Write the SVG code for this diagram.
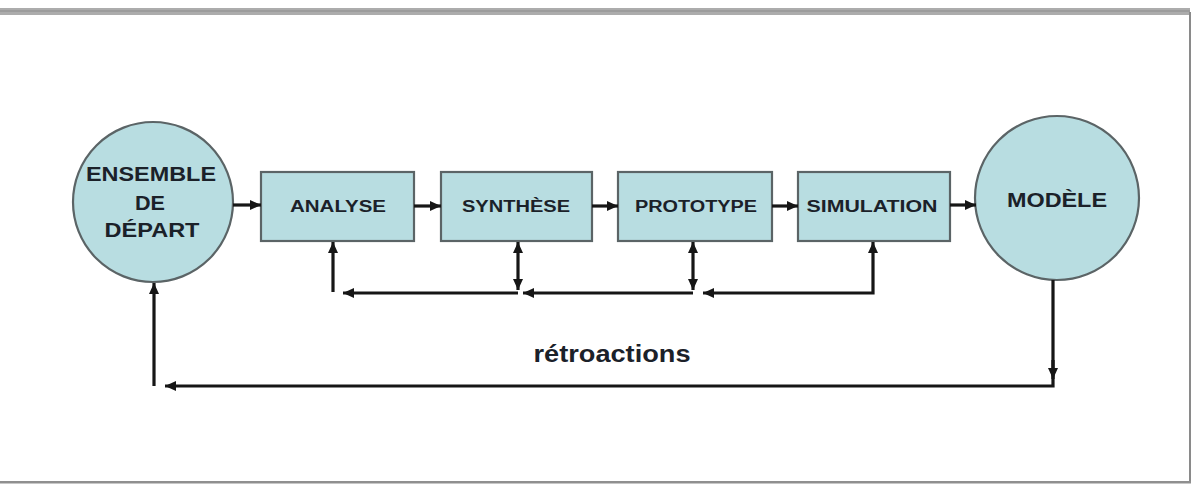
<svg xmlns="http://www.w3.org/2000/svg" width="1201" height="485" viewBox="0 0 1201 485">
<style>
.node{fill:#b8dde1;stroke:#5b6466;stroke-width:2.2}
.lbl{font-family:"Liberation Sans",Arial,sans-serif;font-weight:bold;fill:#1b2129;text-anchor:middle}
.con{fill:none;stroke:#161616;stroke-width:3.2}
</style>
<defs>
<marker id="ah" markerUnits="userSpaceOnUse" markerWidth="12" markerHeight="10" refX="11" refY="5" orient="auto-start-reverse">
<path d="M0,0 L11,5 L0,10 z" fill="#161616"/>
</marker>
</defs>
<rect x="0" y="0" width="1201" height="485" fill="#ffffff"/>
<rect x="0" y="8" width="1190" height="7" fill="#acacac"/>
<rect x="0" y="10" width="1190" height="2" fill="#9c9c9c"/>
<rect x="1189" y="12" width="2" height="471" fill="#8a8a8a"/>
<rect x="0" y="481" width="1191" height="2.5" fill="#8f8f8f"/>

<g id="ensemble">
<circle class="node" cx="153" cy="202" r="80"/>
<text class="lbl" x="151" y="181" font-size="21" textLength="130" lengthAdjust="spacingAndGlyphs">ENSEMBLE</text>
<text class="lbl" x="150" y="210" font-size="21" textLength="30" lengthAdjust="spacingAndGlyphs">DE</text>
<text class="lbl" x="152" y="237" font-size="21" textLength="95" lengthAdjust="spacingAndGlyphs">DÉPART</text>
</g>
<g id="analyse">
<rect class="node" x="261" y="172" width="153" height="69"/>
<text class="lbl" x="338" y="212" font-size="16" textLength="96" lengthAdjust="spacingAndGlyphs">ANALYSE</text>
</g>
<g id="synthese">
<rect class="node" x="441" y="172" width="151" height="69"/>
<text class="lbl" x="516" y="212" font-size="16" textLength="108" lengthAdjust="spacingAndGlyphs">SYNTHÈSE</text>
</g>
<g id="prototype">
<rect class="node" x="618" y="172" width="154" height="69"/>
<text class="lbl" x="696" y="212" font-size="16" textLength="122" lengthAdjust="spacingAndGlyphs">PROTOTYPE</text>
</g>
<g id="simulation">
<rect class="node" x="798" y="172" width="152" height="69"/>
<text class="lbl" x="872" y="212" font-size="16" textLength="131" lengthAdjust="spacingAndGlyphs">SIMULATION</text>
</g>
<g id="modele">
<circle class="node" cx="1057" cy="198" r="82"/>
<text class="lbl" x="1057" y="207" font-size="20" textLength="100" lengthAdjust="spacingAndGlyphs">MODÈLE</text>
</g>

<g id="connectors">
<path class="con" d="M233,205 H261" marker-end="url(#ah)"/>
<path class="con" d="M414,206 H441" marker-end="url(#ah)"/>
<path class="con" d="M592,206 H618" marker-end="url(#ah)"/>
<path class="con" d="M772,206 H798" marker-end="url(#ah)"/>
<path class="con" d="M950,205 H976" marker-end="url(#ah)"/>
<path class="con" d="M333,292 V242" marker-end="url(#ah)"/>
<path class="con" d="M518,293 H343" marker-end="url(#ah)"/>
<path class="con" d="M518,242 V290" marker-start="url(#ah)" marker-end="url(#ah)"/>
<path class="con" d="M693,293 H523" marker-end="url(#ah)"/>
<path class="con" d="M693,242 V290" marker-start="url(#ah)" marker-end="url(#ah)"/>
<path class="con" d="M873,242 V293 H703" marker-start="url(#ah)" marker-end="url(#ah)"/>
<path class="con" d="M1053,280 V386 H165" marker-end="url(#ah)"/>
<path class="con" d="M1053,360 V379" marker-end="url(#ah)"/>
<path class="con" d="M154,386 V283" marker-end="url(#ah)"/>
</g>
<text class="lbl" x="612" y="362" font-size="23" textLength="157" lengthAdjust="spacingAndGlyphs">rétroactions</text>
</svg>
